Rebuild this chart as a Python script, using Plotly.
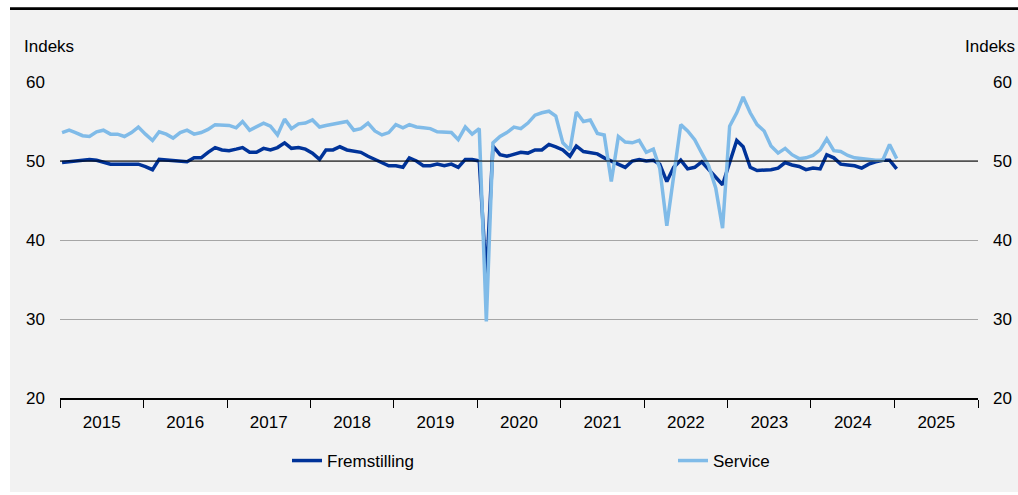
import pandas as pd
import plotly.graph_objects as go

start_month = "2015-01-01"

fremstilling = [
    49.8, 49.9, 50.0, 50.1, 50.2, 50.1, 49.9, 49.6, 49.6, 49.6, 49.6, 49.6,
    49.3, 48.9, 50.2, 50.1, 50.1, 50.0, 49.9, 50.4, 50.4, 51.1, 51.7, 51.4,
    51.3, 51.5, 51.7, 51.1, 51.1, 51.6, 51.4, 51.7, 52.3, 51.6, 51.7, 51.5,
    51.0, 50.2, 51.4, 51.4, 51.8, 51.4, 51.2, 51.1, 50.6, 50.2, 49.9, 49.4,
    49.4, 49.2, 50.4, 50.0, 49.4, 49.4, 49.6, 49.4, 49.6, 49.2, 50.2, 50.2,
    50.0, 35.0, 51.9, 50.8, 50.6, 50.9, 51.1, 51.0, 51.4, 51.4, 52.1, 51.8,
    51.4, 50.6, 51.9, 51.2, 51.0, 50.9, 50.4, 50.0, 49.6, 49.2, 50.0, 50.2,
    50.0, 50.1, 49.6, 47.4, 49.2, 50.1, 49.0, 49.2, 49.9, 48.9, 47.9, 47.0,
    49.8, 52.6, 51.8, 49.2, 48.8, 48.8, 48.9, 49.1, 49.8, 49.5, 49.3, 48.9,
    49.1, 49.0, 50.8, 50.4, 49.6, 49.5, 49.4, 49.1, 49.6, 49.9, 50.1, 50.1,
    49.0,
]

service = [
    53.6, 53.9, 53.6, 53.2, 53.1, 53.7, 53.9, 53.4, 53.4, 53.1, 53.6, 54.3,
    53.4, 52.6, 53.7, 53.4, 52.9, 53.6, 53.9, 53.4, 53.6, 54.0, 54.6, 54.5,
    54.5, 54.2, 55.0, 53.9, 54.4, 54.8, 54.4, 53.3, 55.3, 54.1, 54.7, 54.8,
    55.2, 54.3, 54.5, 54.7, 54.8, 55.0, 53.9, 54.1, 54.8, 53.8, 53.3, 53.6,
    54.6, 54.2, 54.6, 54.3, 54.2, 54.1, 53.7, 53.7, 53.6, 52.7, 54.3, 53.4,
    54.1, 29.7, 52.3, 53.1, 53.6, 54.3, 54.1, 54.8, 55.8, 56.1, 56.3, 55.7,
    52.3, 51.4, 56.2, 55.0, 55.2, 53.5, 53.3, 47.4, 53.1, 52.4, 52.3, 52.6,
    51.1, 51.5, 49.1, 41.8, 48.2, 54.6, 53.8, 52.7, 51.0, 49.4, 46.6, 41.5,
    54.4, 56.1, 58.1, 56.1, 54.6, 53.8, 51.9, 51.0, 51.6, 50.8, 50.3, 50.4,
    50.7, 51.4, 52.8, 51.3, 51.2, 50.7, 50.4, 50.3, 50.1, 50.1, 50.1, 52.1,
    50.3,
]

series_names = ["Fremstilling", "Service"]
series_colors = ["#003399", "#80bbe8"]
y_title = "Indeks"
x_range = ["2015-01-01", "2026-01-01"]
y_range = [20, 60]

dates = pd.date_range(start_month, periods=len(fremstilling), freq="MS") + pd.Timedelta(days=9)

FONT = "Liberation Sans, Arial, sans-serif"
FS = 17

W, H = 1018, 495
L, R, T, B = 60, 40, 82, 97
pw, ph = W - L - R, H - T - B


def px(x):
    return (x - L) / pw


def py(y):
    return (H - B - y) / ph


fig = go.Figure()
for name, vals, col, lg in zip(series_names, [fremstilling, service], series_colors,
                               ["legend", "legend2"]):
    fig.add_trace(go.Scatter(x=dates, y=vals, name=name, mode="lines", legend=lg,
                             line=dict(color=col, width=3.5)))
# invisible trace so that the right axis is drawn
fig.add_trace(go.Scatter(x=dates[:1], y=[50], yaxis="y2", mode="lines",
                         showlegend=False, hoverinfo="skip", line=dict(width=0)))

legend_common = dict(orientation="h", yanchor="middle", xanchor="left",
                     bgcolor="rgba(0,0,0,0)", font=dict(size=FS), itemwidth=30)

fig.update_layout(
    width=W, height=H, autosize=False,
    margin=dict(l=L, r=R, t=T, b=B, pad=0, autoexpand=False),
    paper_bgcolor="#f2f2f2", plot_bgcolor="#f2f2f2",
    font=dict(family=FONT, size=FS, color="#000000"),
    showlegend=True,
    legend=dict(x=px(287), y=py(461), **legend_common),
    legend2=dict(x=px(673), y=py(461), **legend_common),
    xaxis=dict(type="date", range=x_range, tick0="2015-01-01", dtick="M12",
               ticklabelmode="period", tickformat="%Y", ticks="outside", ticklen=8,
               tickcolor="#000000", tickwidth=1, showline=True, linecolor="#000000",
               linewidth=1.5, showgrid=False, zeroline=False, tickfont=dict(size=FS),
               automargin=False),
    yaxis=dict(range=y_range, tick0=20, dtick=10, showgrid=True, gridcolor="#a6a6a6",
               gridwidth=1, zeroline=False, showline=False, ticks="",
               tickfont=dict(size=FS), ticklabelstandoff=14, automargin=False),
    yaxis2=dict(range=y_range, tick0=20, dtick=10, overlaying="y", side="right",
                showgrid=False, zeroline=False, showline=False, ticks="",
                tickfont=dict(size=FS), ticklabelstandoff=14, automargin=False),
    shapes=[
        dict(type="line", xref="paper", yref="y", x0=0, x1=1, y0=50, y1=50,
             line=dict(color="#000000", width=1)),
        dict(type="rect", xref="paper", yref="paper", x0=px(-10), x1=px(10),
             y0=py(520), y1=py(-20), fillcolor="#ffffff", line=dict(width=0)),
        dict(type="rect", xref="paper", yref="paper", x0=px(-10), x1=px(1030),
             y0=py(7.3), y1=py(-20), fillcolor="#ffffff", line=dict(width=0)),
        dict(type="rect", xref="paper", yref="paper", x0=px(-10), x1=px(1030),
             y0=py(520), y1=py(492), fillcolor="#ffffff", line=dict(width=0)),
        dict(type="line", xref="paper", yref="paper", x0=px(10), x1=px(1030),
             y0=py(8.7), y1=py(8.7), line=dict(color="#000000", width=2.7)),
    ],
    annotations=[
        dict(text=y_title, xref="paper", yref="paper", x=px(22), y=py(46),
             xanchor="left", yanchor="middle", showarrow=False, font=dict(size=FS)),
        dict(text=y_title, xref="paper", yref="paper", x=px(1017), y=py(46),
             xanchor="right", yanchor="middle", showarrow=False, font=dict(size=FS)),
    ],
)

fig.write_html("out.html")
